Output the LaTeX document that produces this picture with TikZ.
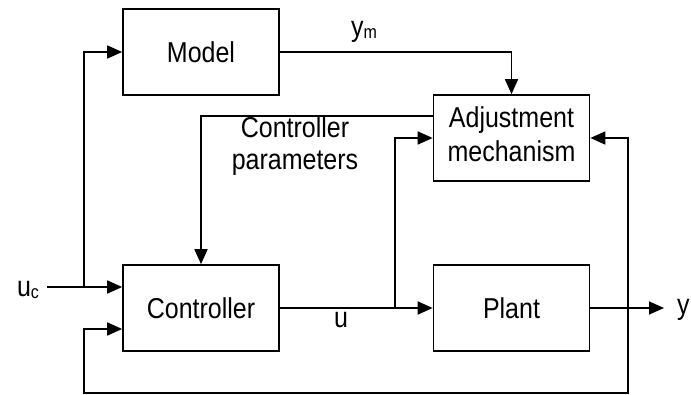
\documentclass[tikz,border=0pt]{standalone}
\usepackage{fontspec}
\setmainfont{Liberation Sans}
\usetikzlibrary{arrows.meta}
\newcommand{\tx}[1]{\scalebox{1}[1.15]{#1}}
\newcommand{\sbs}[1]{\raisebox{-2pt}{\fontsize{16}{16}\selectfont #1}}
\begin{document}
\begin{tikzpicture}[x=1pt,y=-1pt,
  blk/.style={draw, line width=1.7pt, minimum width=156pt, minimum height=86pt, inner sep=0pt, font=\fontsize{25}{29}\selectfont},
  conn/.style={line width=1.7pt},
  arr/.style={conn, -{Triangle[length=15pt,width=13pt]}},
  lbl/.style={inner sep=0pt, font=\fontsize{25}{29}\selectfont}]
\useasboundingbox (0,0) rectangle (691,395);
\node[blk] (model) at (201,52) {\tx{Model}};
\node[blk] (ctrl) at (201,308) {\tx{Controller}};
\node[blk] (adj) at (511.5,138) {\tx{\begin{tabular}{@{}c@{}}Adjustment\\[0.6pt]mechanism\end{tabular}}};
\node[blk] (plant) at (511.5,308) {\tx{Plant}};
% coordinates
\coordinate (ucs) at (47,287);
\coordinate (br1) at (84,287);
\coordinate (uj) at (395,308);
\coordinate (fbx) at (628,308);
\coordinate (fbbr) at (628,393);
\coordinate (fbbl) at (84,393);
\coordinate (cin2) at (84,329);
\coordinate (cp) at (201,116);
\coordinate (yend) at (664,308);
% connectors
\draw[arr] (ucs) -- (ucs -| ctrl.west);
\draw[arr] (br1) |- (model.west);
\draw[arr] (model.east) -| (adj.north);
\draw[arr] (cp -| adj.west) -- (cp) -- (ctrl.north);
\draw[arr] (ctrl.east) -- (plant.west);
\draw[arr] (uj) |- (adj.west);
\draw[arr] (plant.east) -- (yend);
\draw[arr] (fbx) |- (adj.east);
\draw[arr] (fbx) -- (fbbr) -- (fbbl) -- (cin2) -- (cin2 -| ctrl.west);
% labels
\node[lbl] (ym) at (364,32) {\tx{y\sbs{m}}};
\node[lbl] (uc) at (28,290) {\tx{u\sbs{c}}};
\node[lbl] (u) at (341,320) {\tx{u}};
\node[lbl, anchor=west] (y) at (677,310) {\tx{y}};
\node[lbl, align=center] (cpl) at (295,147) {\tx{\begin{tabular}{@{}c@{}}Controller\\[-1pt]parameters\end{tabular}}};
\end{tikzpicture}
\end{document}
